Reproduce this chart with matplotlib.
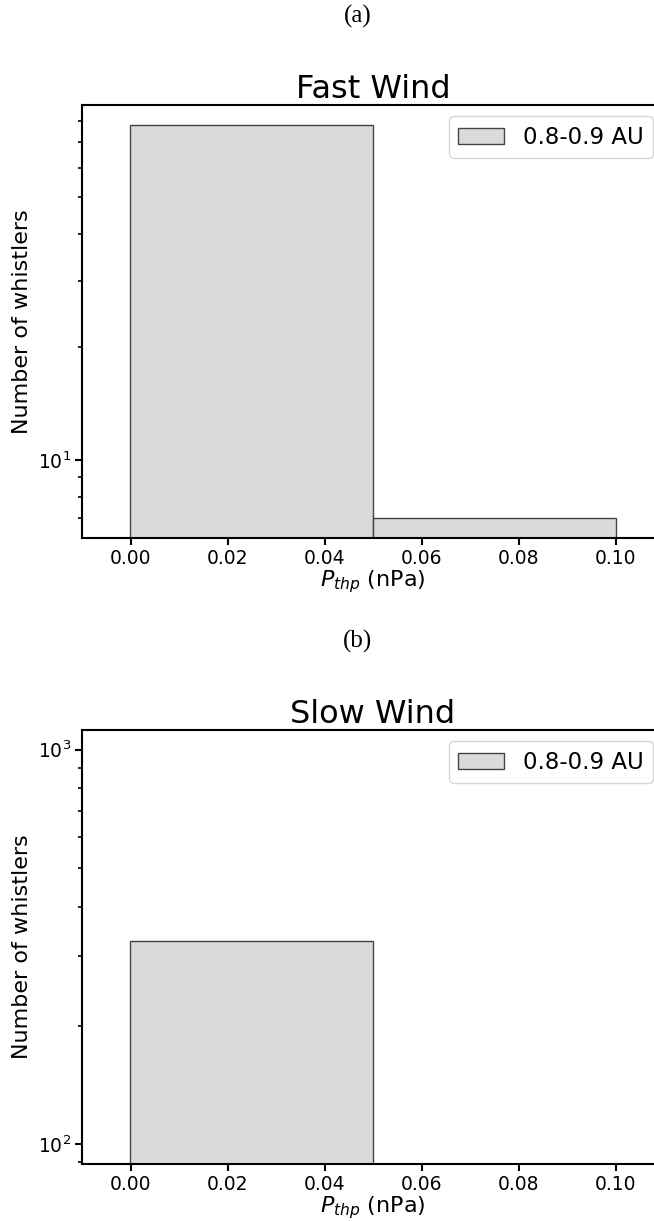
import numpy as np
import matplotlib
matplotlib.use('Agg')
import matplotlib.pyplot as plt
from matplotlib.ticker import NullFormatter

# histogram bins of thermal pressure (nPa) and whistler counts per bin
bin_edges = [0.0, 0.05, 0.10]
fast_counts = [78, 7]
slow_counts = [327, 0]
panel_titles = ['Fast Wind', 'Slow Wind']
panel_tags = ['(a)', '(b)']
dist_label = '0.8-0.9 AU'

W, H = 654, 1221
fig = plt.figure(figsize=(W / 100, H / 100), dpi=100)

plt.rcParams['axes.linewidth'] = 1.5

# axes boxes in pixels: left, top, bottom (right edge runs past the page)
boxes = [(82, 105, 538), (82, 730, 1164)]
right_px = 664
tag_y = [16, 641]

for counts, title, tag, (lft, top, bot), ty in zip([fast_counts, slow_counts], panel_titles,
                                                   panel_tags, boxes, tag_y):
    ax = fig.add_axes([lft / W, 1 - bot / H, (right_px - lft) / W, (bot - top) / H])
    ax.hist(bin_edges[:-1], bins=bin_edges, weights=counts, log=True,
            color='#dadada', edgecolor='#444444', linewidth=1.0, label=dist_label)
    ax.set_xlim(-0.01, 0.11)
    ax.set_xticks(np.arange(0, 0.101, 0.02))
    ax.yaxis.set_minor_formatter(NullFormatter())
    ax.tick_params(axis='both', which='major', labelsize=13.5, length=5, width=1.5, pad=3)
    ax.tick_params(axis='both', which='minor', length=3, width=1.2)
    ax.set_xlabel(r'$P_{thp}$ (nPa)', fontsize=16, labelpad=0)
    ax.set_ylabel('Number of whistlers', fontsize=16, labelpad=4)
    ax.set_title(title, fontsize=23, pad=3)
    ax.legend(loc='upper right', fontsize=16.5)

    fig.text(358 / W, 1 - ty / H, tag, ha='center', va='center',
             fontsize=18, family='Liberation Serif')

fig.savefig('out.png', dpi=100)
